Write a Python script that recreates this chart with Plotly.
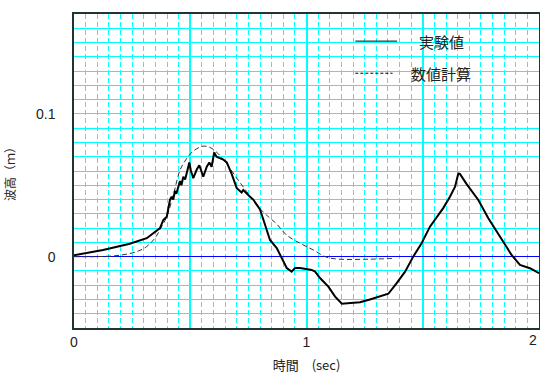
import plotly.graph_objects as go

# Measured wave height (実験値)
t_exp = [0.0, 0.026, 0.125, 0.24, 0.313, 0.37, 0.384, 0.399, 0.413, 0.42, 0.427, 0.434,
         0.44, 0.449, 0.456, 0.462, 0.47, 0.478, 0.485, 0.49, 0.496, 0.503, 0.513,
         0.528, 0.539, 0.549, 0.556, 0.571, 0.582, 0.592, 0.603, 0.613, 0.628, 0.642,
         0.657, 0.678, 0.70, 0.721, 0.728, 0.743, 0.757, 0.771, 0.793, 0.80, 0.815,
         0.829, 0.843, 0.872, 0.893, 0.915, 0.936, 0.951, 0.972, 1.00, 1.022, 1.037,
         1.058, 1.094, 1.123, 1.152, 1.187, 1.23, 1.273, 1.309, 1.352, 1.388, 1.424,
         1.459, 1.495, 1.531, 1.56, 1.588, 1.617, 1.639, 1.653, 1.66, 1.688, 1.739,
         1.782, 1.832, 1.882, 1.918, 1.961, 2.0]
h_exp = [0.001, 0.0017, 0.0047, 0.009, 0.0129, 0.02, 0.0257, 0.028, 0.040, 0.042, 0.040,
         0.046, 0.044, 0.049, 0.053, 0.050, 0.056, 0.054, 0.060, 0.062, 0.066, 0.060,
         0.055, 0.061, 0.064, 0.059, 0.056, 0.063, 0.066, 0.063, 0.073, 0.070, 0.069,
         0.068, 0.066, 0.058, 0.048, 0.045, 0.0467, 0.044, 0.042, 0.040, 0.035, 0.033,
         0.0257, 0.019, 0.0117, 0.006, -0.001, -0.008, -0.0105, -0.008, -0.008,
         -0.0088, -0.0093, -0.0105, -0.015, -0.021, -0.028, -0.033, -0.0326, -0.032,
         -0.030, -0.028, -0.026, -0.0186, -0.0105, 0.0, 0.0094, 0.021, 0.028, 0.034,
         0.042, 0.049, 0.0583, 0.058, 0.051, 0.0397, 0.0269, 0.014, 0.0012, -0.0058,
         -0.0081, -0.0116]

# Numerical result (数値計算)
t_num = [0.0, 0.1, 0.198, 0.27, 0.312, 0.348, 0.377, 0.399, 0.43, 0.456, 0.485, 0.513,
         0.556, 0.585, 0.621, 0.657, 0.70, 0.743, 0.786, 0.829, 0.871, 0.915, 0.972,
         1.029, 1.086, 1.144, 1.266, 1.38]
h_num = [0.0, 0.0, 0.001, 0.0035, 0.007, 0.0129, 0.021, 0.028, 0.045, 0.0606, 0.0688,
         0.074, 0.0774, 0.0765, 0.072, 0.065, 0.055, 0.0455, 0.036, 0.029, 0.023, 0.015,
         0.0094, 0.0047, -0.0004, -0.0018, -0.0018, -0.0012]

x_major = [0, 0.5, 1, 1.5, 2]
x_labels = ["0", "", "1", "", ""]
x_end_label = "2"   # drawn right-aligned at the axis end so it stays on the page
y_grid = [round(-0.05 + 0.01 * i, 2) for i in range(23)]
y_labels = {0.0: "0", 0.1: "0.1"}

legend_names = ["実験値", "数値計算"]

font_main = "Arial, 'Liberation Sans', 'Noto Sans CJK JP', sans-serif"
font_jp = "'Noto Sans CJK JP', sans-serif"
grid_c = "rgb(0,255,255)"

fig = go.Figure()
fig.add_trace(go.Scatter(x=t_num, y=h_num, mode="lines", name=legend_names[1],
                         line=dict(color="#333333", width=1, dash="5px,3px"),
                         line_shape="spline"))
fig.add_trace(go.Scatter(x=t_exp, y=h_exp, mode="lines", name=legend_names[0],
                         line=dict(color="black", width=2)))

fig.update_layout(
    template="none",
    width=540, height=376,
    margin=dict(l=74, r=1, t=14, b=48),
    paper_bgcolor="white", plot_bgcolor="white",
    showlegend=False,
    font=dict(family=font_main, size=14, color="#222222"),
)

fig.update_xaxes(
    range=[0, 2],
    tickmode="array", tickvals=x_major, ticktext=x_labels,
    showgrid=True, gridcolor=grid_c, gridwidth=1.5,
    minor_dtick=0.05, minor_tick0=0, minor_showgrid=True, minor_gridcolor=grid_c,
    minor_griddash="5px,3px", minor_gridwidth=1, minor_ticks="",
    zeroline=False,
    showline=True, linecolor="#223333", linewidth=1.5, mirror=True,
    ticks="", ticklabelstandoff=0, ticklabeloverflow="allow",
    title=dict(text="時間　(sec)", font=dict(family=font_jp, size=13), standoff=12),
)
fig.update_yaxes(
    range=[-0.05, 0.17],
    tickmode="array", tickvals=y_grid,
    ticktext=[y_labels.get(v, "") for v in y_grid],
    showgrid=True, gridcolor=grid_c, gridwidth=1,
    minor_showgrid=False, minor_ticks="",
    zeroline=True, zerolinecolor="#0000ff", zerolinewidth=1,
    showline=True, linecolor="#223333", linewidth=1.5, mirror=True,
    ticks="", ticklabelstandoff=14,
    title=dict(text="波高（ｍ）", font=dict(family=font_jp, size=12), standoff=18),
)

fig.add_annotation(x=x_major[-1], xref="x", y=0, yref="paper", text=x_end_label,
                   xanchor="right", yanchor="top", yshift=-2, showarrow=False,
                   font=dict(family=font_main, size=14, color="#222222"))

# Legend keys drawn inside the plot area
fig.add_shape(type="line", xref="x", yref="y", x0=1.21, x1=1.39, y0=0.151, y1=0.151,
              line=dict(color="black", width=1))
fig.add_shape(type="line", xref="x", yref="y", x0=1.21, x1=1.37, y0=0.1285, y1=0.1285,
              line=dict(color="black", width=1, dash="3px,2px"))
fig.add_annotation(x=1.58, y=0.151, xref="x", yref="y", text=legend_names[0],
                   showarrow=False, font=dict(family=font_jp, size=15, color="#222222"))
fig.add_annotation(x=1.58, y=0.1285, xref="x", yref="y", text=legend_names[1],
                   showarrow=False, font=dict(family=font_jp, size=15, color="#222222"))

fig.write_html("out.html")
